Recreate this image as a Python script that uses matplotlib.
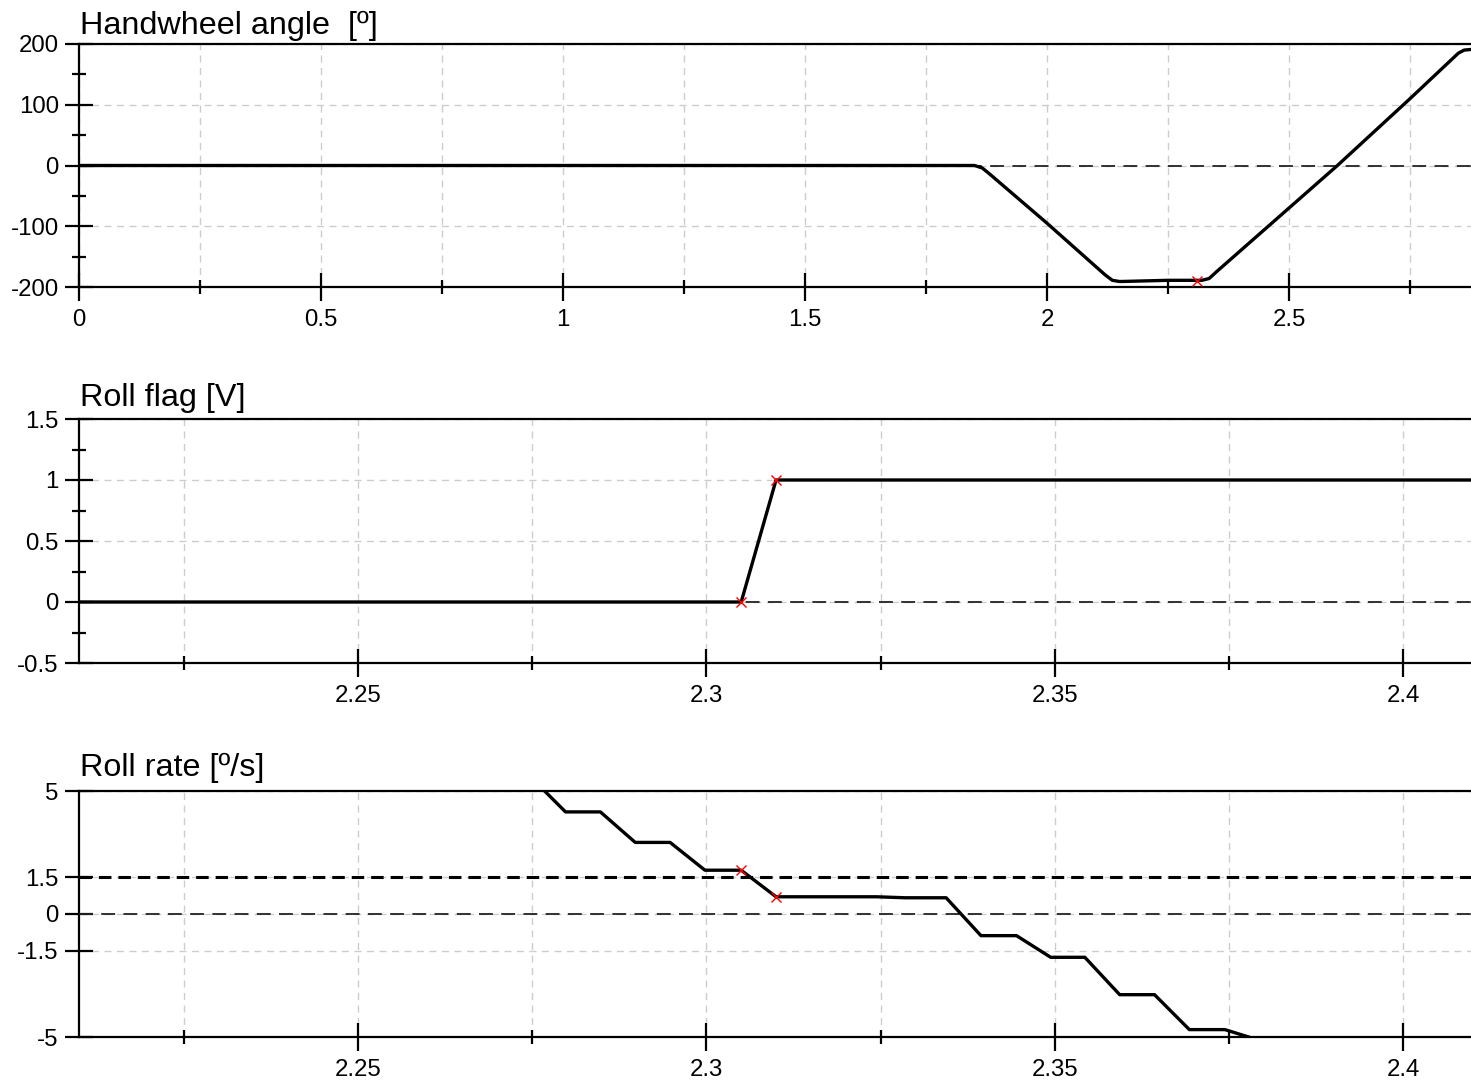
import matplotlib
matplotlib.use("Agg")
import matplotlib.pyplot as plt
from matplotlib.ticker import MultipleLocator, FixedLocator
import numpy as np

plt.rcParams['font.family'] = ['Liberation Sans', 'DejaVu Sans']
plt.rcParams['lines.scale_dashes'] = False

# ---------------- data ----------------
# Handwheel angle [deg] vs time [s]
hw_t = [0.0, 1.850, 1.866, 1.880, 2.000, 2.120, 2.135, 2.150, 2.250, 2.320,
        2.335, 2.350, 2.500, 2.600, 2.750, 2.850, 2.862, 2.876]
hw_v = [0, 0, -4, -13, -95, -180, -189, -191, -189, -189,
        -186, -175, -70, 0, 110, 185, 190, 191]
hw_mark_t = [2.309]
hw_mark_v = [-190]

# Roll flag [V]
rf_t = [2.21, 2.3050, 2.3100, 2.41]
rf_v = [0, 0, 1, 1]
rf_mark_t = [2.3050, 2.3100]
rf_mark_v = [0, 1]

# Roll rate [deg/s]
rr_t = [2.2768, 2.2798, 2.2848, 2.2898, 2.2948, 2.2998, 2.3050, 2.3100,
        2.3244, 2.3285, 2.3344, 2.3394, 2.3445, 2.3494, 2.3543, 2.3593,
        2.3643, 2.3693, 2.3744, 2.3778]
rr_v = [5.0, 4.15, 4.15, 2.91, 2.91, 1.78, 1.78, 0.70,
        0.70, 0.66, 0.66, -0.88, -0.88, -1.76, -1.76, -3.28,
        -3.28, -4.70, -4.70, -5.0]
rr_mark_t = [2.3050, 2.3100]
rr_mark_v = [1.78, 0.70]
rr_threshold = 1.5

titles = ["Handwheel angle  [º]", "Roll flag [V]", "Roll rate [º/s]"]

# ---------------- figure ----------------
W, H = 1471, 1082
fig = plt.figure(figsize=(W / 100, H / 100), dpi=100)

def px_axes(top, bottom, left=79, right=1471):
    return fig.add_axes([left / W, 1 - bottom / H, (right - left) / W, (bottom - top) / H])

ax1 = px_axes(44, 287)
ax2 = px_axes(419, 663)
ax3 = px_axes(791, 1037)

grid_kw = dict(color='#cccccc', linestyle=(0, (5, 4)), linewidth=1.0)
line_kw = dict(color='black', linewidth=2.4, solid_joinstyle='round', zorder=5)
mark_kw = dict(marker='x', color='red', markersize=7.5, markeredgewidth=1.0, linestyle='none', zorder=6)

def style(ax, title, title_pad):
    ax.set_axisbelow(True)
    for s in ['top', 'left', 'bottom']:
        ax.spines[s].set_linewidth(1.6)
        ax.spines[s].set_color('black')
    ax.spines['right'].set_visible(False)
    ax.tick_params(which='major', direction='inout', length=20, width=1.6,
                   pad=4.5, labelsize=17.3, colors='black')
    ax.tick_params(which='minor', direction='inout', length=10, width=1.6)
    ax.tick_params(axis='y', which='both', right=False)
    ax.tick_params(axis='x', which='both', top=False)
    ax.tick_params(axis='x', which='major', pad=6)
    ax.grid(True, which='both', axis='x', **grid_kw)
    ax.grid(True, which='major', axis='y', **grid_kw)
    ax.set_title(title, loc='left', fontsize=23.3, pad=title_pad, x=0.001)

# --- panel 1
ax1.plot(hw_t, hw_v, **line_kw)
ax1.plot(hw_mark_t, hw_mark_v, **mark_kw)
ax1.axhline(0, color='#222222', linewidth=1.3, linestyle=(0, (10, 6)), zorder=3)
ax1.set_xlim(0, 2.876)
ax1.set_ylim(-200, 200)
ax1.set_xticks([0, 0.5, 1, 1.5, 2, 2.5])
ax1.set_xticklabels(['0', '0.5', '1', '1.5', '2', '2.5'])
ax1.xaxis.set_minor_locator(MultipleLocator(0.25))
ax1.set_yticks([-200, -100, 0, 100, 200])
ax1.set_yticklabels(['-200', '-100', '0', '100', '200'])
ax1.yaxis.set_minor_locator(MultipleLocator(50))
style(ax1, titles[0], 7)

# --- panel 2
ax2.plot(rf_t, rf_v, **line_kw)
ax2.plot(rf_mark_t, rf_mark_v, **mark_kw)
ax2.axhline(0, color='#222222', linewidth=1.3, linestyle=(0, (10, 6)), zorder=3)
ax2.set_xlim(2.21, 2.4097)
ax2.set_ylim(-0.5, 1.5)
ax2.set_xticks([2.25, 2.3, 2.35, 2.4])
ax2.set_xticklabels(['2.25', '2.3', '2.35', '2.4'])
ax2.xaxis.set_minor_locator(FixedLocator([2.225, 2.275, 2.325, 2.375]))
ax2.set_yticks([-0.5, 0, 0.5, 1, 1.5])
ax2.set_yticklabels(['-0.5', '0', '0.5', '1', '1.5'])
ax2.yaxis.set_minor_locator(FixedLocator([-0.25, 0.25, 0.75, 1.25]))
style(ax2, titles[1], 9.5)

# --- panel 3
ax3.plot(rr_t, rr_v, **line_kw)
ax3.plot(rr_mark_t, rr_mark_v, **mark_kw)
ax3.axhline(0, color='#222222', linewidth=1.3, linestyle=(0, (10, 6)), zorder=3)
ax3.axhline(rr_threshold, color='black', linewidth=2.2, linestyle=(0, (9, 5)), zorder=3)
ax3.set_xlim(2.21, 2.4097)
ax3.set_ylim(-5, 5)
ax3.set_xticks([2.25, 2.3, 2.35, 2.4])
ax3.set_xticklabels(['2.25', '2.3', '2.35', '2.4'])
ax3.xaxis.set_minor_locator(FixedLocator([2.225, 2.275, 2.325, 2.375]))
ax3.set_yticks([-5, -1.5, 0, 1.5, 5])
ax3.set_yticklabels(['-5', '-1.5', '0', '1.5', '5'])
style(ax3, titles[2], 11)

fig.savefig('out.png', dpi=100, facecolor='white')
